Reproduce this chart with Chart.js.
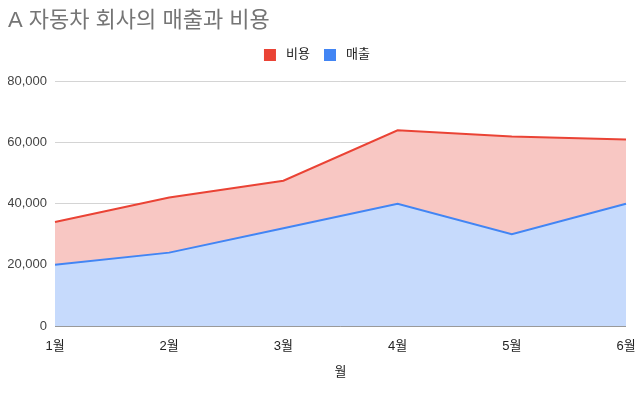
<!DOCTYPE html>
<html><head><meta charset="utf-8">
<script src="https://cdn.jsdelivr.net/npm/chart.js@4"></script>
<style>html,body{margin:0;padding:0;background:#fff}#wrap{width:644px;height:396px}</style>
</head><body><div id="wrap"><canvas id="c" width="644" height="396"></canvas></div>
<script>
const months = ['1월','2월','3월','4월','5월','6월'];
const costs = [34000, 42000, 47500, 64000, 62000, 61000];
const sales = [20000, 24000, 32000, 40000, 30000, 40000];
const yTicks = [0, 20000, 40000, 60000, 80000];
const FONT = "Arial, 'Liberation Sans', 'Noto Sans CJK KR', sans-serif";

const legendSpace = {
  id: 'legendSpace',
  beforeInit(chart) {
    const lg = chart.legend;
    const orig = lg.fit.bind(lg);
    lg.fit = function () { orig(); this.height += 10; };
  }
};

new Chart(document.getElementById('c'), {
  type: 'line',
  data: {
    labels: months,
    datasets: [
      { label: '비용', data: costs, borderColor: '#ea4335', backgroundColor: '#ea4335',
        fill: { target: '+1', above: '#f8c7c3', below: '#f8c7c3' }, borderWidth: 2, pointRadius: 0, tension: 0 },
      { label: '매출', data: sales, borderColor: '#4285f4', backgroundColor: '#4285f4',
        fill: { target: 'origin', above: '#c6dafc' }, borderWidth: 2, pointRadius: 0, tension: 0 }
    ]
  },
  plugins: [legendSpace],
  options: {
    responsive: false,
    animation: false,
    layout: { padding: { left: 8, right: 18, top: 0, bottom: 0 } },
    plugins: {
      filler: { drawTime: 'beforeDatasetsDraw' },
      tooltip: { enabled: false },
      title: { display: true, text: 'A 자동차 회사의 매출과 비용', align: 'start', color: '#757575',
        font: { family: FONT, size: 22, weight: 'normal' }, padding: { top: 8, bottom: 0 } },
      legend: { display: true, position: 'top',
        labels: { boxWidth: 12, boxHeight: 12, color: '#222', padding: 14,
          font: { family: FONT, size: 13 },
          generateLabels: (chart) => chart.data.datasets.map((d, i) => ({
            text: ' ' + d.label, fillStyle: d.borderColor, strokeStyle: d.borderColor, lineWidth: 0,
            datasetIndex: i, fontColor: '#222' })) } }
    },
    scales: {
      x: {
        grid: { display: false }, border: { display: false },
        ticks: { color: '#222', padding: 5, maxRotation: 0, font: { family: FONT, size: 13 } },
        title: { display: true, text: '월', color: '#222', font: { family: FONT, size: 13 }, padding: { top: 0, bottom: 16 } },
        afterFit: (s) => { s.height = 70; }
      },
      y: {
        z: 1,
        min: 0, max: 80000,
        afterBuildTicks: (s) => { s.ticks = yTicks.map(v => ({ value: v })); },
        grid: { drawTicks: false, color: (ctx) => ctx.tick && ctx.tick.value === 0 ? 'rgba(51,51,51,0.5)' : 'rgba(0,0,0,0.17)', lineWidth: 1 },
        border: { display: false },
        ticks: { color: '#444', padding: 8, font: { family: FONT, size: 13 },
          callback: (v) => v.toLocaleString('en-US') },
        afterFit: (s) => { s.width = 47; }
      }
    }
  }
});
</script></body></html>
